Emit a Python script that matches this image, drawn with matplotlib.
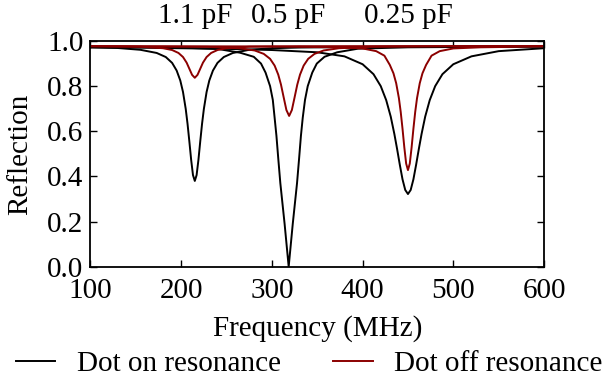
import matplotlib
matplotlib.use("Agg")
import matplotlib.pyplot as plt

plt.rcParams['font.family'] = ['Liberation Serif', 'DejaVu Serif']

# values, one list pair per trace
# dot on resonance (black)
on_11_f = [100, 130, 155, 173, 183, 190, 195, 199, 202, 205, 207, 209, 211, 213, 215,
           217, 219, 221, 223, 225, 228, 231, 235, 240, 247, 257, 275, 300, 330, 415, 600]
on_11_r = [0.971, 0.969, 0.961, 0.947, 0.929, 0.903, 0.869, 0.825, 0.774, 0.699, 0.633,
           0.555, 0.473, 0.406, 0.380, 0.406, 0.473, 0.555, 0.633, 0.699, 0.774, 0.825,
           0.869, 0.903, 0.929, 0.947, 0.961, 0.968, 0.971, 0.974, 0.975]

on_05_f = [100, 190, 240, 265, 280, 288, 293, 298, 301, 303, 305, 307, 309.3, 314, 318.5,
           323, 327.7, 330, 332, 334, 336.5, 339.5, 344.5, 349.5, 358, 372, 395, 450, 600]
on_05_r = [0.975, 0.972, 0.965, 0.948, 0.930, 0.900, 0.860, 0.800, 0.739, 0.660, 0.580,
           0.480, 0.370, 0.190, 0.0, 0.190, 0.370, 0.480, 0.580, 0.660, 0.739, 0.800,
           0.860, 0.900, 0.930, 0.950, 0.966, 0.972, 0.976]

on_025_f = [100, 180, 250, 300, 350, 380, 400, 412, 420, 426, 431, 435, 438, 441, 444,
            447, 450, 453, 456, 459, 462, 465, 469, 474, 480, 488, 500, 520, 550, 600]
on_025_r = [0.973, 0.969, 0.965, 0.960, 0.950, 0.932, 0.897, 0.853, 0.800, 0.738, 0.665,
            0.588, 0.522, 0.452, 0.387, 0.340, 0.322, 0.340, 0.387, 0.452, 0.522, 0.588,
            0.665, 0.738, 0.800, 0.853, 0.897, 0.932, 0.955, 0.968]

# dot off resonance (dark red)
off_11_f = [100, 155, 180, 190, 197, 202, 206, 209, 212, 215, 218, 221, 224, 228, 233,
            240, 250, 275, 330, 600]
off_11_r = [0.977, 0.9745, 0.968, 0.960, 0.947, 0.929, 0.904, 0.877, 0.850, 0.837, 0.850,
            0.877, 0.904, 0.929, 0.947, 0.960, 0.968, 0.9745, 0.977, 0.978]

off_05_f = [100, 229, 264, 281, 291, 298, 303, 307, 310, 313, 316, 319, 322, 325, 328,
            331, 335, 340, 347, 357, 374, 409, 520, 600]
off_05_r = [0.977, 0.974, 0.968, 0.958, 0.943, 0.921, 0.891, 0.851, 0.807, 0.750, 0.694,
            0.668, 0.694, 0.750, 0.807, 0.851, 0.891, 0.921, 0.943, 0.958, 0.968, 0.974,
            0.977, 0.978]

off_025_f = [100, 300, 370, 400, 415, 424, 430, 434, 437, 440, 442, 444, 446, 448, 450,
             452, 454, 456, 458, 460, 463, 466, 470, 476, 485, 500, 530, 600]
off_025_r = [0.977, 0.976, 0.972, 0.967, 0.955, 0.935, 0.894, 0.857, 0.813, 0.747, 0.686,
             0.611, 0.528, 0.457, 0.428, 0.457, 0.528, 0.611, 0.686, 0.747, 0.813, 0.857,
             0.894, 0.935, 0.955, 0.967, 0.972, 0.976]

cap_labels = ['1.1 pF', '0.5 pF', '0.25 pF']
cap_freqs = [215, 318, 450]

x_ticks = [100, 200, 300, 400, 500, 600]
y_ticks = [0.0, 0.2, 0.4, 0.6, 0.8, 1.0]

red = '#8b0000'
fs = 21

fig = plt.figure(figsize=(6.02, 3.81), dpi=100)
ax = fig.add_axes([0.1503, 0.300, 0.7534, 0.5924])

ax.plot(on_11_f, on_11_r, color='black', lw=1.4, label='Dot on resonance')
ax.plot(on_05_f, on_05_r, color='black', lw=1.4)
ax.plot(on_025_f, on_025_r, color='black', lw=1.4)
ax.plot(off_11_f, off_11_r, color=red, lw=1.4, label='Dot off resonance')
ax.plot(off_05_f, off_05_r, color=red, lw=1.4)
ax.plot(off_025_f, off_025_r, color=red, lw=1.4)

for lab, f in zip(cap_labels, cap_freqs):
    ax.text(f, 1.08, lab, ha='center', va='baseline', fontsize=fs, clip_on=False)

ax.set_xlim(100, 600)
ax.set_ylim(0, 1)
ax.set_xticks(x_ticks)
ax.set_yticks(y_ticks)
ax.set_yticklabels(['%.1f' % v for v in y_ticks])
ax.tick_params(direction='in', top=True, right=True, length=5, width=1,
               labelsize=fs)
ax.tick_params(axis='x', pad=8)
ax.tick_params(axis='y', pad=5)
for s in ax.spines.values():
    s.set_linewidth(1.3)

ax.set_xlabel('Frequency (MHz)', fontsize=fs, labelpad=8)
ax.set_ylabel('Reflection', fontsize=fs, labelpad=10)

fig.legend(loc='center', bbox_to_anchor=(0.514, 0.045), ncol=2, frameon=False,
           fontsize=fs, handlelength=1.34, handletextpad=0.75, columnspacing=1.8,
           borderaxespad=0, borderpad=0)

fig.savefig('out.png', dpi=100)
